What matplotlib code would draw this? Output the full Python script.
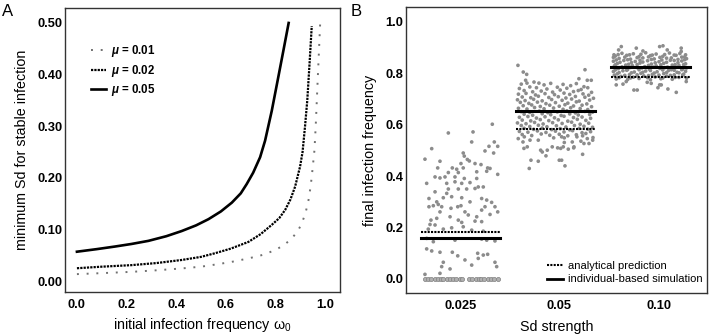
import matplotlib.pyplot as plt
from matplotlib.lines import Line2D

plt.rcParams['font.family'] = ['Liberation Sans', 'DejaVu Sans']
plt.rcParams['mathtext.fontset'] = 'custom'
plt.rcParams['mathtext.rm'] = 'Liberation Sans'
plt.rcParams['mathtext.it'] = 'Liberation Sans:italic:bold'

# ---- panel A: minimum Sd vs initial infection frequency
w_05 = [0.0, 0.08, 0.153, 0.22, 0.288, 0.36, 0.422, 0.48, 0.53, 0.58, 0.624,
        0.66, 0.684, 0.71, 0.738, 0.758, 0.785, 0.812, 0.832, 0.853]
sd_05 = [0.057, 0.062, 0.067, 0.072, 0.078, 0.087, 0.097, 0.108, 0.12, 0.135, 0.152,
         0.170, 0.188, 0.210, 0.240, 0.272, 0.330, 0.397, 0.447, 0.50]
w_02 = [0.0, 0.1, 0.22, 0.32, 0.422, 0.5, 0.556, 0.62, 0.691, 0.74, 0.785, 0.815,
        0.839, 0.86, 0.879, 0.899, 0.909, 0.919, 0.928, 0.937, 0.946]
sd_02 = [0.025, 0.028, 0.031, 0.035, 0.041, 0.047, 0.054, 0.063, 0.076, 0.091, 0.109, 0.122,
         0.138, 0.158, 0.183, 0.222, 0.250, 0.300, 0.350, 0.420, 0.494]
w_01 = [0.0, 0.1, 0.22, 0.32, 0.422, 0.5, 0.556, 0.62, 0.691, 0.75, 0.798, 0.835,
        0.866, 0.89, 0.906, 0.921, 0.933, 0.942, 0.949, 0.957, 0.962, 0.97, 0.98]
sd_01 = [0.0136, 0.0155, 0.018, 0.021, 0.0246, 0.028, 0.032, 0.037, 0.044, 0.051, 0.060, 0.070,
         0.083, 0.097, 0.112, 0.132, 0.157, 0.185, 0.216, 0.254, 0.30, 0.39, 0.50]

# ---- panel B: final infection frequency per Sd strength
sd_labels = ['0.025', '0.05', '0.10']
analytical = [0.181, 0.585, 0.785]
simulation = [0.160, 0.654, 0.826]

# (jitter offset, final frequency)
sim_025 = [
    (0.335, 0.602), (-0.128, 0.568), (0.132, 0.572), (0.118, 0.533), (0.356, 0.533),
    (-0.303, 0.507), (0.392, 0.516), (0.30, 0.516), (0.258, 0.498), (0.349, 0.49),
    (-0.374, 0.466), (-0.216, 0.458), (0.029, 0.49), (0.04, 0.478), (0.072, 0.465),
    (0.093, 0.459), (0.153, 0.449), (0.216, 0.445), (0.005, 0.449), (-0.24, 0.432),
    (-0.086, 0.432), (-0.04, 0.427), (0.029, 0.432), (0.286, 0.432), (0.311, 0.43),
    (-0.128, 0.414), (-0.023, 0.414), (0.171, 0.417), (0.276, 0.419), (0.392, 0.407),
    (-0.268, 0.397), (-0.216, 0.393), (-0.163, 0.397), (-0.058, 0.397), (0.04, 0.391),
    (0.171, 0.391), (-0.356, 0.372), (-0.145, 0.372), (-0.058, 0.378), (0.013, 0.372),
    (0.187, 0.358), (0.24, 0.358), (0.10, 0.375), (-0.128, 0.35), (-0.023, 0.35),
    (0.065, 0.35), (0.153, 0.352), (-0.268, 0.339), (-0.145, 0.333), (-0.093, 0.32),
    (-0.181, 0.316), (-0.332, 0.313), (0.013, 0.316), (0.223, 0.313), (0.276, 0.307),
    (-0.25, 0.30), (0.10, 0.30), (0.328, 0.298), (-0.332, 0.281), (-0.286, 0.285),
    (-0.234, 0.29), (-0.198, 0.281), (-0.10, 0.275), (-0.029, 0.281), (0.005, 0.285),
    (0.258, 0.281), (0.363, 0.281), (-0.216, 0.261), (0.047, 0.261), (0.082, 0.249),
    (0.223, 0.268), (0.392, 0.261), (-0.11, 0.242), (0.171, 0.242), (0.311, 0.251),
    (-0.311, 0.229), (-0.25, 0.236), (-0.023, 0.229), (0.013, 0.22), (0.153, 0.225),
    (0.223, 0.223), (-0.321, 0.212), (-0.268, 0.21), (0.029, 0.203), (-0.093, 0.199),
    (-0.339, 0.194), (-0.181, 0.194), (0.118, 0.19), (0.24, 0.186), (-0.356, 0.158),
    (-0.286, 0.145), (-0.058, 0.151), (0.223, 0.155), (0.276, 0.151), (0.363, 0.148),
    (-0.356, 0.117), (-0.303, 0.109), (-0.216, 0.104), (-0.086, 0.104), (-0.029, 0.09),
    (0.181, 0.10), (0.24, 0.093), (0.286, 0.096), (0.187, 0.08), (0.047, 0.074),
    (-0.181, 0.065), (0.363, 0.065), (-0.198, 0.048), (0.118, 0.054), (0.381, 0.048),
    (-0.11, 0.039), (-0.374, 0.018), (-0.216, 0.022),
]
zero_025 = [-0.37, -0.34, -0.31, -0.27, -0.24, -0.21, -0.18, -0.14, -0.11, -0.08,
            -0.05, -0.01, 0.02, 0.09, 0.12, 0.16, 0.19, 0.22, 0.25, 0.29, 0.32,
            0.35, 0.39]

sim_05 = [
    (-0.395, 0.831), (-0.339, 0.805), (-0.303, 0.796), (0.311, 0.814), (-0.314, 0.773),
    (-0.226, 0.766), (-0.174, 0.762), (0.335, 0.773), (0.247, 0.779), (0.377, 0.773),
    (-0.392, 0.546), (-0.342, 0.533), (-0.268, 0.54), (-0.156, 0.501), (-0.086, 0.501),
    (-0.332, 0.508), (-0.297, 0.514), (0.055, 0.508), (0.082, 0.514), (0.195, 0.514),
    (0.177, 0.533), (0.30, 0.527), (0.353, 0.527), (0.286, 0.485), (-0.034, 0.514),
    (-0.139, 0.494), (0.335, 0.546), (0.395, 0.55), (-0.328, 0.553), (-0.181, 0.54),
    (-0.019, 0.549), (0.065, 0.553), (0.093, 0.549), (0.226, 0.553), (0.286, 0.557),
    (0.392, 0.54), (0.023, 0.51), (0.093, 0.531), (0.135, 0.505), (0.192, 0.51),
    (0.268, 0.536), (-0.10, 0.479), (-0.258, 0.462), (-0.181, 0.458), (0.04, 0.462),
    (0.065, 0.462), (0.10, 0.44), (-0.276, 0.43),
    (-0.36, 0.758), (-0.30, 0.762), (-0.12, 0.755), (-0.05, 0.761), (0.08, 0.757),
    (0.16, 0.752), (0.22, 0.760), (0.30, 0.748),
    (-0.38, 0.741), (-0.27, 0.747), (-0.20, 0.744), (-0.09, 0.739), (0.02, 0.746),
    (0.12, 0.742), (0.27, 0.737), (0.34, 0.744),
    (-0.33, 0.733), (-0.24, 0.728), (-0.15, 0.731), (-0.03, 0.727), (0.05, 0.735),
    (0.19, 0.729), (0.24, 0.733), (0.38, 0.726),
    (-0.39, 0.719), (-0.31, 0.722), (-0.21, 0.716), (-0.11, 0.721), (-0.01, 0.717),
    (0.09, 0.723), (0.15, 0.718), (0.29, 0.720), (0.35, 0.715),
    (-0.35, 0.708), (-0.26, 0.705), (-0.18, 0.711), (-0.07, 0.706), (0.03, 0.709),
    (0.11, 0.704), (0.21, 0.710), (0.31, 0.707), (0.40, 0.703),
    (-0.40, 0.697), (-0.32, 0.694), (-0.23, 0.699), (-0.14, 0.693), (-0.04, 0.698),
    (0.07, 0.695), (0.17, 0.700), (0.25, 0.692), (0.36, 0.696),
    (-0.37, 0.687), (-0.28, 0.683), (-0.19, 0.688), (-0.10, 0.682), (0.00, 0.686),
    (0.13, 0.684), (0.22, 0.689), (0.33, 0.681),
    (-0.34, 0.674), (-0.25, 0.677), (-0.16, 0.671), (-0.06, 0.676), (0.04, 0.672),
    (0.10, 0.678), (0.19, 0.673), (0.28, 0.676), (0.38, 0.670),
    (-0.39, 0.664), (-0.30, 0.661), (-0.22, 0.667), (-0.12, 0.662), (-0.02, 0.665),
    (0.08, 0.660), (0.16, 0.666), (0.26, 0.663), (0.34, 0.659),
    (-0.36, 0.651), (-0.27, 0.648), (-0.17, 0.653), (-0.08, 0.647), (0.02, 0.650),
    (0.12, 0.654), (0.21, 0.646), (0.31, 0.652), (0.39, 0.649),
    (-0.33, 0.641), (-0.24, 0.637), (-0.14, 0.643), (-0.05, 0.639), (0.06, 0.636),
    (0.15, 0.642), (0.24, 0.638), (0.36, 0.640),
    (-0.38, 0.629), (-0.29, 0.632), (-0.20, 0.626), (-0.11, 0.631), (-0.01, 0.627),
    (0.09, 0.633), (0.19, 0.628), (0.28, 0.630), (0.37, 0.625),
    (-0.35, 0.618), (-0.26, 0.615), (-0.16, 0.620), (-0.07, 0.616), (0.03, 0.619),
    (0.13, 0.614), (0.23, 0.621), (0.32, 0.617),
    (-0.40, 0.607), (-0.31, 0.604), (-0.22, 0.609), (-0.13, 0.603), (-0.03, 0.608),
    (0.07, 0.605), (0.17, 0.610), (0.26, 0.602), (0.35, 0.606),
    (-0.36, 0.597), (-0.27, 0.593), (-0.18, 0.598), (-0.09, 0.592), (0.01, 0.596),
    (0.11, 0.591), (0.20, 0.597), (0.30, 0.594), (0.39, 0.590),
    (-0.33, 0.586), (-0.23, 0.582), (-0.14, 0.587), (-0.04, 0.581), (0.05, 0.585),
    (0.15, 0.580), (0.25, 0.586), (0.34, 0.583),
    (-0.38, 0.574), (-0.29, 0.571), (-0.19, 0.576), (-0.10, 0.570), (0.00, 0.575),
    (0.09, 0.572), (0.18, 0.577), (0.28, 0.569), (0.37, 0.573),
    (-0.35, 0.562), (-0.25, 0.558), (-0.15, 0.564), (-0.06, 0.559), (0.04, 0.563),
    (0.13, 0.557), (0.22, 0.561), (0.32, 0.566),
]

sim_10 = [
    (-0.307, 0.904), (-0.335, 0.891), (-0.149, 0.898), (-0.079, 0.887), (0.097, 0.904),
    (0.132, 0.907), (0.177, 0.891), (0.324, 0.898), (0.324, 0.885), (-0.384, 0.872),
    (-0.36, 0.755), (-0.289, 0.758), (-0.255, 0.768), (-0.174, 0.735), (-0.139, 0.735),
    (-0.034, 0.765), (0.008, 0.761), (0.097, 0.755), (0.114, 0.755), (0.184, 0.739),
    (0.272, 0.726), (0.079, 0.744), (0.377, 0.768),
    (-0.30, 0.878), (-0.18, 0.876), (-0.05, 0.880), (0.06, 0.875), (0.20, 0.879), (0.31, 0.877),
    (-0.37, 0.867), (-0.25, 0.870), (-0.12, 0.865), (0.00, 0.869), (0.13, 0.866), (0.25, 0.871),
    (0.36, 0.864),
    (-0.33, 0.858), (-0.21, 0.855), (-0.08, 0.860), (0.04, 0.856), (0.17, 0.859), (0.29, 0.854),
    (0.38, 0.857),
    (-0.39, 0.847), (-0.28, 0.850), (-0.16, 0.846), (-0.03, 0.849), (0.09, 0.845), (0.21, 0.851),
    (0.33, 0.848),
    (-0.35, 0.838), (-0.23, 0.835), (-0.11, 0.840), (0.01, 0.836), (0.14, 0.839), (0.26, 0.834),
    (0.37, 0.837),
    (-0.38, 0.828), (-0.30, 0.825), (-0.19, 0.830), (-0.06, 0.826), (0.06, 0.829), (0.18, 0.824),
    (0.30, 0.831),
    (-0.34, 0.818), (-0.24, 0.815), (-0.13, 0.820), (-0.01, 0.816), (0.10, 0.819), (0.22, 0.814),
    (0.34, 0.817),
    (-0.39, 0.807), (-0.29, 0.810), (-0.17, 0.805), (-0.05, 0.809), (0.07, 0.806), (0.19, 0.811),
    (0.28, 0.804), (0.37, 0.808),
    (-0.35, 0.798), (-0.22, 0.795), (-0.10, 0.800), (0.02, 0.796), (0.14, 0.799), (0.25, 0.794),
    (0.35, 0.797),
    (-0.31, 0.788), (-0.18, 0.785), (-0.07, 0.790), (0.05, 0.786), (0.17, 0.789), (0.30, 0.784),
    (-0.36, 0.778), (-0.24, 0.776), (-0.12, 0.780), (0.00, 0.775), (0.11, 0.779), (0.23, 0.777),
    (0.38, 0.781),
    (-0.34, 0.873), (-0.22, 0.872), (-0.10, 0.874), (0.02, 0.871), (0.15, 0.873), (0.27, 0.870),
    (0.37, 0.872),
    (-0.39, 0.862), (-0.27, 0.863), (-0.14, 0.861), (-0.02, 0.864), (0.10, 0.862), (0.22, 0.860),
    (0.33, 0.863),
    (-0.36, 0.852), (-0.24, 0.853), (-0.11, 0.851), (0.01, 0.854), (0.12, 0.852), (0.25, 0.850),
    (0.36, 0.853),
    (-0.32, 0.843), (-0.20, 0.842), (-0.08, 0.844), (0.05, 0.841), (0.17, 0.843), (0.29, 0.842),
    (-0.37, 0.833), (-0.26, 0.832), (-0.14, 0.834), (-0.02, 0.831), (0.11, 0.833), (0.23, 0.832),
    (0.35, 0.834),
    (-0.33, 0.822), (-0.21, 0.823), (-0.09, 0.821), (0.03, 0.824), (0.15, 0.822), (0.27, 0.823),
    (0.38, 0.821),
    (-0.37, 0.813), (-0.25, 0.812), (-0.12, 0.814), (0.00, 0.811), (0.13, 0.813), (0.25, 0.812),
    (0.33, 0.814),
    (-0.33, 0.803), (-0.20, 0.802), (-0.08, 0.804), (0.04, 0.801), (0.17, 0.803), (0.30, 0.802),
    (-0.38, 0.793), (-0.27, 0.792), (-0.14, 0.794), (-0.02, 0.791), (0.09, 0.793), (0.21, 0.792),
    (0.34, 0.794),
    (-0.33, 0.783), (-0.21, 0.782), (-0.03, 0.783), (0.13, 0.782), (0.26, 0.784),
]

fig = plt.figure(figsize=(7.09, 3.35), dpi=100)

# ---------------- panel A
axA = fig.add_axes([0.0917, 0.1284, 0.3879, 0.8478])
axA.plot(w_01, sd_01, color='#707070', lw=1.4, ls=(0, (1, 4)), label='$\\mu$ = 0.01')
axA.plot(w_02, sd_02, color='black', lw=1.6, ls=(0, (1, 0.5)), label='$\\mu$ = 0.02')
axA.plot(w_05, sd_05, color='black', lw=1.9, label='$\\mu$ = 0.05')
axA.set_xlim(-0.048, 1.06)
axA.set_ylim(-0.021, 0.529)
axA.set_xticks([0, 0.2, 0.4, 0.6, 0.8, 1.0])
axA.set_xticklabels(['0.0', '0.2', '0.4', '0.6', '0.8', '1.0'])
axA.set_yticks([0, 0.1, 0.2, 0.3, 0.4, 0.5])
axA.set_yticklabels(['0.00', '0.10', '0.20', '0.30', '0.40', '0.50'])
axA.set_xlabel('initial infection frequency ω$_0$', fontsize=10.3, labelpad=4)
axA.set_ylabel('minimum Sd for stable infection', fontsize=10.3, labelpad=6)
axA.legend(loc='upper left', bbox_to_anchor=(0.095, 0.875), frameon=False,
           prop={'size': 8.3, 'weight': 'bold'}, borderaxespad=0, borderpad=0,
           handlelength=1.3, handletextpad=0.4, labelspacing=0.3)

# ---------------- panel B
axB = fig.add_axes([0.5726, 0.1254, 0.4245, 0.8537])
pt_color = '#8c8c8c'
groups = [sim_025, sim_05, sim_10]
for i, pts in enumerate(groups):
    xs = [i + 1 + p[0] for p in pts]
    ys = [p[1] for p in pts]
    axB.scatter(xs, ys, s=7, color=pt_color, edgecolors='none', zorder=2)
axB.scatter([1 + z for z in zero_025], [0.0] * len(zero_025), s=9,
            facecolor='#b0b0b0', edgecolors='#808080', linewidths=0.5, zorder=2)
for i in range(3):
    axB.plot([i + 1 - 0.42, i + 1 + 0.42], [analytical[i]] * 2, color='black',
             lw=1.5, ls=(0, (1, 0.6)), zorder=3)
    axB.plot([i + 1 - 0.42, i + 1 + 0.42], [simulation[i]] * 2, color='black',
             lw=2.2, zorder=4)
axB.set_xlim(0.426, 3.595)
axB.set_ylim(-0.0545, 1.058)
axB.set_xticks([1.0, 2.04, 3.09])
axB.set_xticklabels(sd_labels)
axB.set_yticks([0, 0.2, 0.4, 0.6, 0.8, 1.0])
axB.set_yticklabels(['0.0', '0.2', '0.4', '0.6', '0.8', '1.0'])
axB.set_xlabel('Sd strength', fontsize=10.3, labelpad=6)
axB.set_ylabel('final infection frequency', fontsize=10.3, labelpad=6)
leg_handles = [Line2D([0], [0], color='black', lw=1.5, ls=(0, (1, 0.6))),
               Line2D([0], [0], color='black', lw=2.0)]
axB.legend(leg_handles, ['analytical prediction', 'individual-based simulation'],
           loc='lower right', bbox_to_anchor=(0.985, 0.03), frameon=False,
           prop={'size': 8}, borderaxespad=0, borderpad=0, handlelength=1.5,
           handletextpad=0.4, labelspacing=0.3)

for ax in (axA, axB):
    for sp in ax.spines.values():
        sp.set_color('#333333')
        sp.set_linewidth(1.0)
    ax.tick_params(axis='x', length=0, pad=5, labelsize=9.3)
    ax.tick_params(axis='y', length=0, pad=2, labelsize=9.3)
    for lbl in ax.get_xticklabels() + ax.get_yticklabels():
        lbl.set_fontweight('bold')

fig.text(0.003, 0.965, 'A', fontsize=12, va='center')
fig.text(0.494, 0.965, 'B', fontsize=12, va='center')

fig.savefig('out.png', dpi=100)
